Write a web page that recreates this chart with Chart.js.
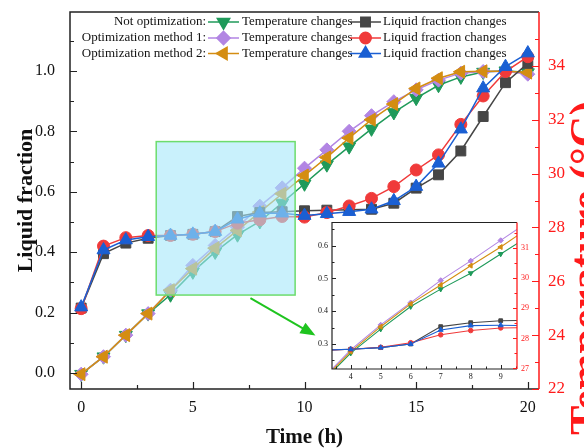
<!DOCTYPE html>
<html>
<head>
<meta charset="utf-8">
<script src="https://cdn.jsdelivr.net/npm/chart.js@4/dist/chart.umd.min.js"></script>
<style>
  html, body { margin: 0; padding: 0; background: #fff; }
  #wrap { position: relative; width: 584px; height: 448px; overflow: hidden; }
  #main { position: absolute; left: 0; top: 0; }
  #inset { position: absolute; left: 300px; top: 210px; }
</style>
</head>
<body>
<div id="wrap">
  <canvas id="main" width="584" height="448"></canvas>
  <canvas id="inset" width="246" height="182"></canvas>
</div>
<script>
// ---- data: melting time (h), liquid fraction (-) and temperature (°C) ----
const time = [0, 1, 2, 3, 4, 5, 6, 7, 8, 9, 10, 11, 12, 13, 14, 15, 16, 17, 18, 19, 20];

const liquidNone = [0.215, 0.395, 0.430, 0.446, 0.455, 0.459, 0.468, 0.518, 0.531, 0.534, 0.537,
                    0.539, 0.540, 0.542, 0.562, 0.612, 0.656, 0.735, 0.849, 0.961, 1.025];
const liquidM1   = [0.213, 0.420, 0.448, 0.455, 0.455, 0.459, 0.468, 0.496, 0.507, 0.518, 0.516,
                    0.531, 0.553, 0.578, 0.617, 0.672, 0.722, 0.823, 0.917, 0.998, 1.047];
const liquidM2   = [0.218, 0.407, 0.440, 0.451, 0.455, 0.459, 0.468, 0.509, 0.529, 0.529, 0.521,
                    0.527, 0.534, 0.542, 0.570, 0.617, 0.694, 0.807, 0.943, 1.014, 1.059];

const tempNone = [22.55, 23.20, 24.00, 24.80, 25.50, 26.35, 27.09, 27.73, 28.22, 28.91, 29.62,
                  30.33, 31.00, 31.66, 32.27, 32.80, 33.28, 33.59, 33.77, 33.82, 33.75];
const tempM1   = [22.55, 23.20, 24.00, 24.80, 25.67, 26.59, 27.33, 28.01, 28.79, 29.47, 30.20,
                  30.88, 31.57, 32.15, 32.67, 33.11, 33.47, 33.73, 33.79, 33.80, 33.69];
const tempM2   = [22.55, 23.20, 24.00, 24.80, 25.67, 26.47, 27.23, 27.89, 28.57, 29.25, 29.93,
                  30.60, 31.32, 32.00, 32.58, 33.16, 33.54, 33.78, 33.80, 33.80, 33.75];

const xTicks      = [0, 5, 10, 15, 20];
const liquidTicks = [0.0, 0.2, 0.4, 0.6, 0.8, 1.0];
const tempTicks   = [22, 24, 26, 28, 30, 32, 34];

// enlarged detail, 3–10 h
const insetTime       = [3, 4, 5, 6, 7, 8, 9, 10];
const insetLiquidNone = [0.281, 0.284, 0.289, 0.300, 0.353, 0.365, 0.371, 0.372];
const insetLiquidM1   = [0.281, 0.284, 0.290, 0.304, 0.328, 0.341, 0.349, 0.350];
const insetLiquidM2   = [0.281, 0.284, 0.289, 0.300, 0.343, 0.356, 0.357, 0.356];
const insetTempNone   = [26.50, 27.51, 28.31, 29.06, 29.64, 30.17, 30.81, 31.44];
const insetTempM1     = [26.60, 27.62, 28.45, 29.19, 29.93, 30.58, 31.26, 31.94];
const insetTempM2     = [26.55, 27.56, 28.39, 29.15, 29.78, 30.42, 31.04, 31.72];

const insetXTicks      = [4, 5, 6, 7, 8, 9];
const insetLiquidTicks = [0.3, 0.4, 0.5, 0.6];
const insetTempTicks   = [27, 28, 29, 30, 31];

const groupNames  = ['Not optimization:', 'Optimization method 1:', 'Optimization method 2:'];
const seriesNames = ['Temperature changes', 'Liquid fraction changes'];

// zoomed window (h, liquid fraction) and the pointer towards the inset
const zoomBox   = { x0: 3.36, x1: 9.58, y0: 0.258, y1: 0.766 };
const zoomArrow = { x0: 7.58, y0: 0.248, x1: 10.49, y1: 0.124 };

// ---- styling ----
const SERIF = '"Liberation Serif", "Times New Roman", Times, serif';
const RED = '#ff1a1a';
const STY = {
  tempNone: { color: '#1f9a5a', style: 'triangle', rot: 180, r: 7.5 },
  liqNone:  { color: '#464646', style: 'rect',     rot: 0,   r: 7 },
  tempM1:   { color: '#b285e3', style: 'rectRot',  rot: 0,   r: 7 },
  liqM1:    { color: '#f03a3a', style: 'circle',   rot: 0,   r: 6 },
  tempM2:   { color: '#d48d12', style: 'triangle', rot: -90, r: 7.5 },
  liqM2:    { color: '#1a5fd3', style: 'triangle', rot: 0,   r: 7.5 }
};

function series(xs, ys, st, axis, scale, lw) {
  return {
    data: xs.map((t, i) => ({ x: t, y: ys[i] })),
    yAxisID: axis,
    borderColor: st.color,
    backgroundColor: st.color,
    pointStyle: st.style,
    pointRotation: st.rot,
    pointRadius: st.r * scale,
    pointBorderWidth: 1,
    borderWidth: lw,
    tension: 0,
    fill: false
  };
}

function minorValues(ticks, min, max) {
  const step = ticks[1] - ticks[0];
  const out = [];
  for (let v = ticks[0] - step / 2; v <= max + 1e-9; v += step) if (v >= min - 1e-9) out.push(v);
  return out;
}

function marks(ctx, scale, values, len, side, area) {
  ctx.beginPath();
  values.forEach(v => {
    const p = Math.round(scale.getPixelForValue(v)) + 0.5;
    if (side === 'bottom') { ctx.moveTo(p, area.bottom); ctx.lineTo(p, area.bottom - len); }
    if (side === 'left')   { ctx.moveTo(area.left, p);   ctx.lineTo(area.left + len, p); }
    if (side === 'right')  { ctx.moveTo(area.right, p);  ctx.lineTo(area.right - len, p); }
  });
  ctx.stroke();
}

function noPad(s) { s.paddingTop = 0; s.paddingBottom = 0; s.paddingLeft = 0; s.paddingRight = 0; }

// ---- main chart decorations ----
const decor = {
  id: 'decor',
  afterDatasetsDraw(chart) {
    const { ctx, chartArea: a, scales: { x, y, y2 } } = chart;
    ctx.save();

    // translucent window marking the enlarged region
    const bx0 = x.getPixelForValue(zoomBox.x0), bx1 = x.getPixelForValue(zoomBox.x1);
    const by0 = y.getPixelForValue(zoomBox.y1), by1 = y.getPixelForValue(zoomBox.y0);
    ctx.fillStyle = 'rgba(165,232,250,0.6)';
    ctx.fillRect(bx0, by0, bx1 - bx0, by1 - by0);
    ctx.strokeStyle = '#6ddc6d';
    ctx.lineWidth = 1.5;
    ctx.strokeRect(bx0, by0, bx1 - bx0, by1 - by0);

    // arrow
    const ax0 = x.getPixelForValue(zoomArrow.x0), ay0 = y.getPixelForValue(zoomArrow.y0);
    const ax1 = x.getPixelForValue(zoomArrow.x1), ay1 = y.getPixelForValue(zoomArrow.y1);
    const ang = Math.atan2(ay1 - ay0, ax1 - ax0);
    const hl = 15, hw = 6;
    ctx.strokeStyle = '#1fc41f';
    ctx.fillStyle = '#1fc41f';
    ctx.lineWidth = 2;
    ctx.beginPath();
    ctx.moveTo(ax0, ay0);
    ctx.lineTo(ax1 - Math.cos(ang) * hl * 0.8, ay1 - Math.sin(ang) * hl * 0.8);
    ctx.stroke();
    ctx.beginPath();
    ctx.moveTo(ax1, ay1);
    ctx.lineTo(ax1 - Math.cos(ang) * hl - Math.sin(ang) * hw, ay1 - Math.sin(ang) * hl + Math.cos(ang) * hw);
    ctx.lineTo(ax1 - Math.cos(ang) * hl + Math.sin(ang) * hw, ay1 - Math.sin(ang) * hl - Math.cos(ang) * hw);
    ctx.closePath();
    ctx.fill();

    // frame
    ctx.lineWidth = 1.5;
    ctx.strokeStyle = '#222';
    ctx.beginPath();
    ctx.moveTo(a.right, a.top); ctx.lineTo(a.left, a.top); ctx.lineTo(a.left, a.bottom); ctx.lineTo(a.right, a.bottom);
    ctx.stroke();
    ctx.lineWidth = 1.2;
    marks(ctx, x, xTicks, 7, 'bottom', a);
    marks(ctx, x, minorValues(xTicks, x.min, x.max), 4, 'bottom', a);
    marks(ctx, y, liquidTicks, 7, 'left', a);
    marks(ctx, y, minorValues(liquidTicks, y.min, y.max), 4, 'left', a);

    ctx.strokeStyle = RED;
    ctx.lineWidth = 1.5;
    ctx.beginPath();
    ctx.moveTo(a.right, a.top); ctx.lineTo(a.right, a.bottom);
    ctx.stroke();
    ctx.lineWidth = 1.2;
    marks(ctx, y2, tempTicks, 7, 'right', a);
    marks(ctx, y2, minorValues(tempTicks, y2.min, y2.max), 4, 'right', a);

    // legend
    const rows = [
      [STY.tempNone, STY.liqNone],
      [STY.tempM1, STY.liqM1],
      [STY.tempM2, STY.liqM2]
    ];
    const rowY = [22, 38, 53.5];
    ctx.font = '13px ' + SERIF;
    ctx.textBaseline = 'middle';
    rows.forEach((pair, i) => {
      const yy = rowY[i];
      ctx.fillStyle = '#111';
      ctx.textAlign = 'right';
      ctx.fillText(groupNames[i], 206, yy);
      const samples = [[208, 239, 242], [350, 381, 383]];
      pair.forEach((st, j) => {
        const [s0, s1, tx] = samples[j];
        ctx.strokeStyle = st.color;
        ctx.lineWidth = 1.5;
        ctx.beginPath(); ctx.moveTo(s0, yy); ctx.lineTo(s1, yy); ctx.stroke();
        ctx.fillStyle = st.color;
        Chart.helpers.drawPoint(ctx, { pointStyle: st.style, rotation: st.rot, radius: st.r * 0.95, borderWidth: 1 }, (s0 + s1) / 2, yy);
        ctx.fillStyle = '#111';
        ctx.textAlign = 'left';
        ctx.fillText(seriesNames[j], tx, yy);
      });
    });

    // right axis title, reading upwards
    ctx.save();
    ctx.translate(600, 268);
    ctx.rotate(-Math.PI / 2);
    ctx.font = 'bold 44px ' + SERIF;
    ctx.fillStyle = RED;
    ctx.textAlign = 'center';
    ctx.textBaseline = 'alphabetic';
    ctx.fillText('Temperature (°C)', 0, 0);
    ctx.restore();

    ctx.restore();
  }
};

new Chart(document.getElementById('main'), {
  type: 'line',
  data: {
    datasets: [
      series(time, liquidM2, STY.liqM2, 'y', 1, 1.5),
      series(time, liquidM1, STY.liqM1, 'y', 1, 1.5),
      series(time, liquidNone, STY.liqNone, 'y', 1, 1.5),
      series(time, tempM2, STY.tempM2, 'y2', 1, 1.5),
      series(time, tempM1, STY.tempM1, 'y2', 1, 1.5),
      series(time, tempNone, STY.tempNone, 'y2', 1, 1.5)
    ]
  },
  options: {
    responsive: false,
    animation: false,
    devicePixelRatio: 1,
    layout: { padding: { top: 12, left: 0, right: 0, bottom: 0 } },
    plugins: { legend: { display: false }, tooltip: { enabled: false } },
    scales: {
      x: {
        type: 'linear', min: -0.5, max: 20.5,
        afterBuildTicks: s => { s.ticks = xTicks.map(v => ({ value: v })); },
        afterFit: s => { s.height = 59; noPad(s); },
        grid: { display: false, drawTicks: false },
        border: { display: false },
        ticks: { padding: 9, color: '#111', font: { family: SERIF, size: 16 }, maxRotation: 0, autoSkip: false },
        title: { display: true, text: 'Time (h)', color: '#111',
                 font: { family: SERIF, size: 21, weight: 'bold', lineHeight: 1 }, padding: { top: 0, bottom: 0 } }
      },
      y: {
        type: 'linear', position: 'left', min: -0.053, max: 1.195,
        afterBuildTicks: s => { s.ticks = liquidTicks.map(v => ({ value: v })); },
        afterFit: s => { s.width = 70; noPad(s); },
        grid: { display: false, drawTicks: false },
        border: { display: false },
        ticks: { padding: 15, color: '#111', font: { family: SERIF, size: 16 }, callback: v => v.toFixed(1) },
        title: { display: true, text: 'Liquid fraction', color: '#111',
                 font: { family: SERIF, size: 22, weight: 'bold', lineHeight: 1 }, padding: { top: 15, bottom: 0 } }
      },
      y2: {
        type: 'linear', position: 'right', min: 22, max: 36,
        afterBuildTicks: s => { s.ticks = tempTicks.map(v => ({ value: v })); },
        afterFit: s => { s.width = 45; noPad(s); },
        grid: { display: false, drawTicks: false },
        border: { display: false },
        ticks: { padding: 9, color: RED, font: { family: SERIF, size: 17 } }
      }
    }
  },
  plugins: [decor]
});

// ---- inset: enlarged 3–10 h window ----
const insetDecor = {
  id: 'insetDecor',
  beforeDatasetsDraw(chart) {
    const { ctx, chartArea: a } = chart;
    ctx.save();
    ctx.fillStyle = '#fff';
    ctx.fillRect(a.left, a.top, a.right - a.left, a.bottom - a.top);
    ctx.restore();
  },
  afterDatasetsDraw(chart) {
    const { ctx, chartArea: a, scales: { x, y, y2 } } = chart;
    ctx.save();
    ctx.lineWidth = 1.2;
    ctx.strokeStyle = '#222';
    ctx.beginPath();
    ctx.moveTo(a.right, a.top); ctx.lineTo(a.left, a.top); ctx.lineTo(a.left, a.bottom); ctx.lineTo(a.right, a.bottom);
    ctx.stroke();
    ctx.lineWidth = 1;
    marks(ctx, x, insetXTicks, 4, 'bottom', a);
    marks(ctx, x, minorValues(insetXTicks, x.min, x.max), 2.5, 'bottom', a);
    marks(ctx, y, insetLiquidTicks, 4, 'left', a);
    marks(ctx, y, minorValues(insetLiquidTicks, y.min, y.max), 2.5, 'left', a);
    ctx.strokeStyle = RED;
    ctx.lineWidth = 1.3;
    ctx.beginPath(); ctx.moveTo(a.right, a.top); ctx.lineTo(a.right, a.bottom); ctx.stroke();
    ctx.lineWidth = 1;
    marks(ctx, y2, insetTempTicks, 4, 'right', a);
    marks(ctx, y2, minorValues(insetTempTicks, y2.min, y2.max), 2.5, 'right', a);

    ctx.font = '8px ' + SERIF;
    ctx.textBaseline = 'middle';
    ctx.fillStyle = '#111';
    ctx.textAlign = 'center';
    insetXTicks.forEach(v => ctx.fillText(String(v), x.getPixelForValue(v), a.bottom + 7.5));
    ctx.textAlign = 'right';
    insetLiquidTicks.forEach(v => ctx.fillText(v.toFixed(1), a.left - 4, y.getPixelForValue(v)));
    ctx.fillStyle = RED;
    ctx.textAlign = 'left';
    insetTempTicks.forEach(v => ctx.fillText(String(v), a.right + 4, y2.getPixelForValue(v)));
    ctx.restore();
  }
};

new Chart(document.getElementById('inset'), {
  type: 'line',
  data: {
    datasets: [
      series(insetTime, insetLiquidM2, STY.liqM2, 'y', 0.38, 1.1),
      series(insetTime, insetLiquidM1, STY.liqM1, 'y', 0.38, 1.1),
      series(insetTime, insetLiquidNone, STY.liqNone, 'y', 0.38, 1.1),
      series(insetTime, insetTempM2, STY.tempM2, 'y2', 0.38, 1.1),
      series(insetTime, insetTempM1, STY.tempM1, 'y2', 0.38, 1.1),
      series(insetTime, insetTempNone, STY.tempNone, 'y2', 0.38, 1.1)
    ]
  },
  options: {
    responsive: false,
    animation: false,
    devicePixelRatio: 1,
    layout: { padding: { left: 32, top: 12.5, right: 29, bottom: 23 } },
    plugins: { legend: { display: false }, tooltip: { enabled: false } },
    scales: {
      x:  { type: 'linear', display: false, min: 3.377, max: 9.543 },
      y:  { type: 'linear', display: false, min: 0.2237, max: 0.6708 },
      y2: { type: 'linear', display: false, min: 26.983, max: 31.856 }
    }
  },
  plugins: [insetDecor]
});
</script>
</body>
</html>
